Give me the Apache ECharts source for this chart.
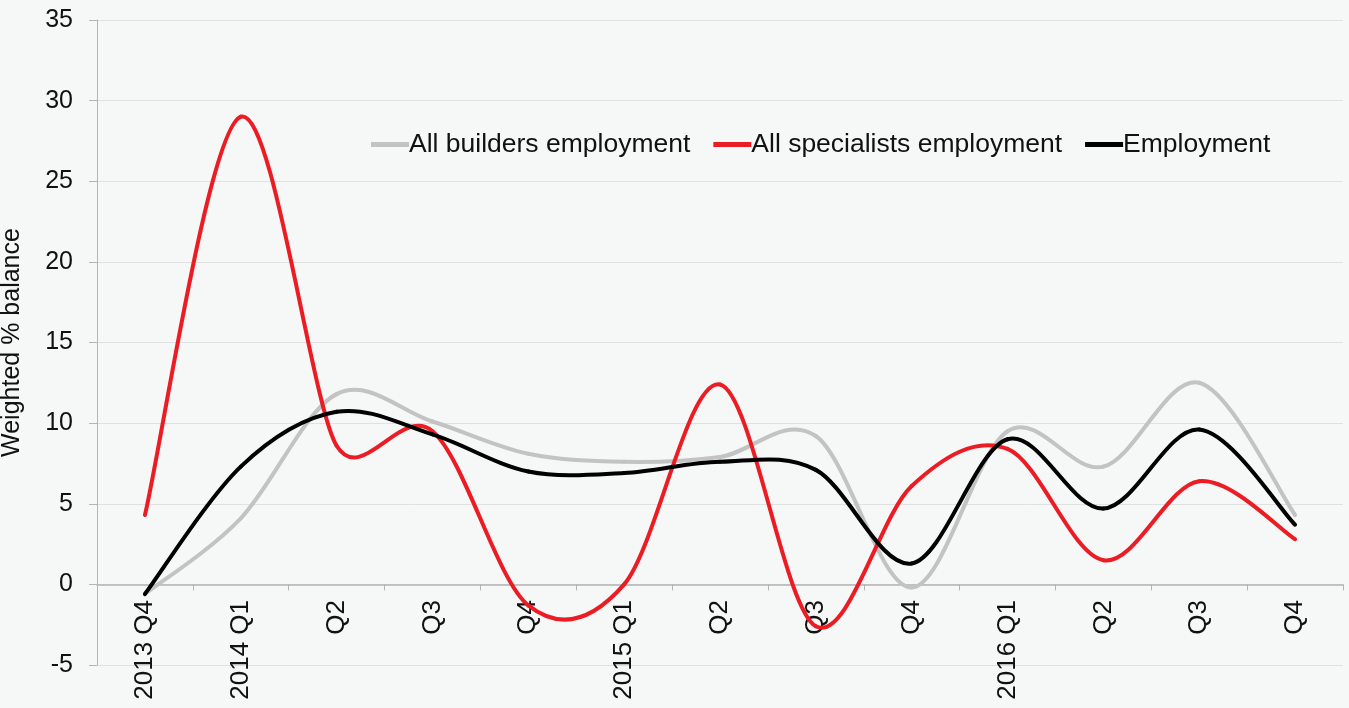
<!DOCTYPE html>
<html>
<head>
<meta charset="utf-8">
<script src="https://cdn.jsdelivr.net/npm/echarts@6/dist/echarts.min.js"></script>
<style>
html,body{margin:0;padding:0;background:#f6f7f7;}
#chart{width:1349px;height:708px;}
</style>
</head>
<body>
<div id="chart"></div>
<script>
const categories = ['2013 Q4','2014 Q1','Q2','Q3','Q4','2015 Q1','Q2','Q3','Q4','2016 Q1','Q2','Q3','Q4'];
const builders = [-0.6, 4.1, 11.8, 10.1, 8.1, 7.6, 7.9, 9.2, -0.2, 9.5, 7.3, 12.5, 4.3];
const specialists = [4.3, 29.0, 8.6, 9.5, -1.3, 0.0, 12.4, -2.6, 6.1, 8.4, 1.5, 6.4, 2.8];
const employment = [-0.6, 7.3, 10.7, 9.3, 7.0, 6.9, 7.6, 7.1, 1.3, 9.0, 4.7, 9.6, 3.7];
const yTicks = {min: -5, max: 35, interval: 5};

const font = 'Liberation Sans, Arial, sans-serif';
const FS = 25;

// Smooth curve (spreadsheet-style limited tangents); every point is placed through the chart's own axes via api.coord
function smoothSeries(name, values, color, z) {
  const n = values.length;
  const dist = (a, b) => Math.hypot(b[0] - a[0], b[1] - a[1]);
  function tangent(api, k) {
    const p = api.coord([k, values[k]]);
    const a = api.coord([Math.max(k - 1, 0), values[Math.max(k - 1, 0)]]);
    const b = api.coord([Math.min(k + 1, n - 1), values[Math.min(k + 1, n - 1)]]);
    const L = dist(a, b) || 1;
    let len = L / 6;
    if (k > 0) len = Math.min(len, dist(a, p) / 2);
    if (k < n - 1) len = Math.min(len, dist(p, b) / 2);
    return [p, (b[0] - a[0]) / L * len, (b[1] - a[1]) / L * len];
  }
  return {
    name: name,
    type: 'custom',
    z: z,
    itemStyle: {color: color},
    data: values.map((v, i) => [i, v]),
    encode: {x: 0, y: 1},
    renderItem: function (params, api) {
      const i = params.dataIndex;
      if (i >= n - 1) return null;
      const t1 = tangent(api, i), t2 = tangent(api, i + 1);
      const p1 = t1[0], p2 = t2[0];
      return {
        type: 'bezierCurve',
        shape: {
          x1: p1[0], y1: p1[1], x2: p2[0], y2: p2[1],
          cpx1: p1[0] + t1[1], cpy1: p1[1] + t1[2],
          cpx2: p2[0] - t2[1], cpy2: p2[1] - t2[2]
        },
        style: {stroke: color, lineWidth: 4, fill: null, lineCap: 'round'}
      };
    }
  };
}

const chart = echarts.init(document.getElementById('chart'));
chart.setOption({
  backgroundColor: '#f6f7f7',
  animation: false,
  textStyle: {fontFamily: font},
  grid: {left: 97, right: 6, top: 20, bottom: 43, outerBoundsMode: 'none', containLabel: false},
  legend: {
    left: 366, top: 126,
    itemWidth: 38, itemHeight: 5, itemGap: 23,
    icon: 'rect',
    textStyle: {fontSize: 26.5, color: '#111', fontFamily: font, padding: [0, 0, 0, -5]},
    data: ['All builders employment', 'All specialists employment', 'Employment']
  },
  xAxis: {
    type: 'category',
    data: categories,
    boundaryGap: true,
    axisLine: {onZero: true, lineStyle: {color: '#b4b4b4', width: 1.5}},
    axisTick: {show: true, interval: 0, length: 6, lineStyle: {color: '#b4b4b4'}},
    axisLabel: {interval: 0, rotate: 90, fontSize: 26, color: '#111', margin: -65, fontFamily: font}
  },
  yAxis: {
    type: 'value',
    min: yTicks.min, max: yTicks.max, interval: yTicks.interval,
    name: 'Weighted % balance',
    nameLocation: 'middle',
    nameGap: 72,
    nameTextStyle: {fontSize: FS, color: '#111', fontFamily: font},
    axisLine: {show: true, lineStyle: {color: '#b4b4b4', width: 1}},
    axisTick: {show: true, length: 8, lineStyle: {color: '#b4b4b4'}},
    axisLabel: {fontSize: FS, color: '#111', margin: 24, fontFamily: font},
    splitLine: {lineStyle: {color: '#e0e1e1', width: 1}}
  },
  series: [
    smoothSeries('All builders employment', builders, '#c3c3c3', 2),
    smoothSeries('All specialists employment', specialists, '#ec1c24', 3),
    smoothSeries('Employment', employment, '#000000', 4)
  ]
});
</script>
</body>
</html>
